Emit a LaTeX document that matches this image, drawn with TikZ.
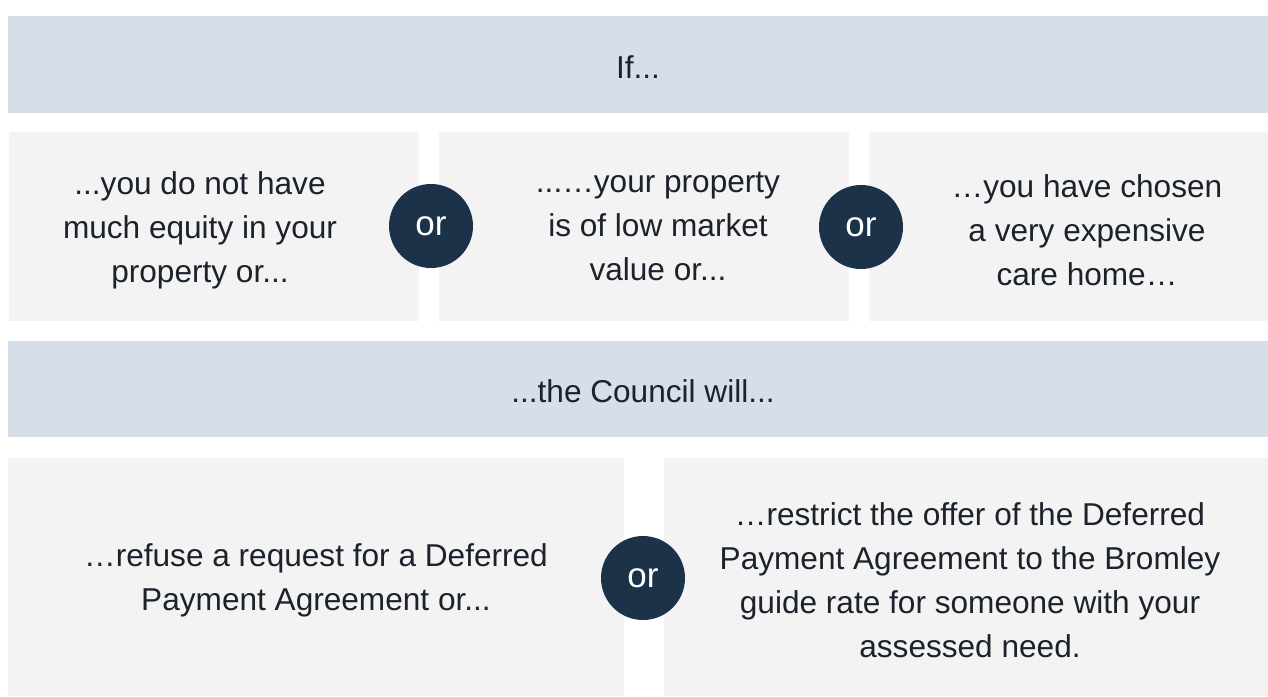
\documentclass[tikz,border=0pt]{standalone}
\usepackage{fontspec}
\setmainfont{Liberation Sans}
\definecolor{bandc}{HTML}{D6DFE8}
\definecolor{boxc}{HTML}{F3F3F3}
\definecolor{navy}{HTML}{1B3249}
\definecolor{txt}{HTML}{1B222C}
\begin{document}
\begin{tikzpicture}[x=1pt,y=-1pt,
  band/.style={fill=bandc, draw=none, inner sep=0pt, anchor=north west},
  panel/.style={fill=boxc, draw=none, inner sep=0pt, anchor=north west},
  lbl/.style={text=txt, align=center, inner sep=0pt, font=\fontsize{31.6}{44}\selectfont},
  orc/.style={circle, fill=navy, draw=none, minimum size=84pt, inner sep=0pt, text=white, font=\fontsize{35}{40}\selectfont}]
\useasboundingbox (0,0) rectangle (1268,696);
% bands
\node[band, minimum width=1260pt, minimum height=97pt] (band1) at (8,16) {};
\node[band, minimum width=1260pt, minimum height=96pt] (band2) at (8,341) {};
% panels
\node[panel, minimum width=410pt, minimum height=189pt] (p1) at (9,132) {};
\node[panel, minimum width=410pt, minimum height=189pt] (p2) at (439,132) {};
\node[panel, minimum width=399pt, minimum height=189pt] (p3) at (869,132) {};
\node[panel, minimum width=616pt, minimum height=238pt] (p4) at (8,458) {};
\node[panel, minimum width=604pt, minimum height=238pt] (p5) at (664,458) {};
% texts
\node[lbl] (t1) at (638,67) {If...};
\node[lbl] (t2) at (643,391) {...the Council will...};
\node[lbl] (t3) at (200,230) {...you do not have\\much equity in your\\property or...};
\node[lbl] (t4) at (658,226.5) {...…your property\\is of low market\\value or...};
\node[lbl] (t5) at (1087,230) {…you have chosen\\a very expensive\\care home…};
\node[lbl] (t6) at (316,580) {…refuse a request for a Deferred\\Payment Agreement or...};
\node[lbl] (t7) at (970,580) {…restrict the offer of the Deferred\\Payment Agreement to the Bromley\\guide rate for someone with your\\assessed need.};
% or circles
\node[orc] (o1) at (431,226) {or};
\node[orc] (o2) at (861,227) {or};
\node[orc] (o3) at (643,578) {or};
\end{tikzpicture}
\end{document}
